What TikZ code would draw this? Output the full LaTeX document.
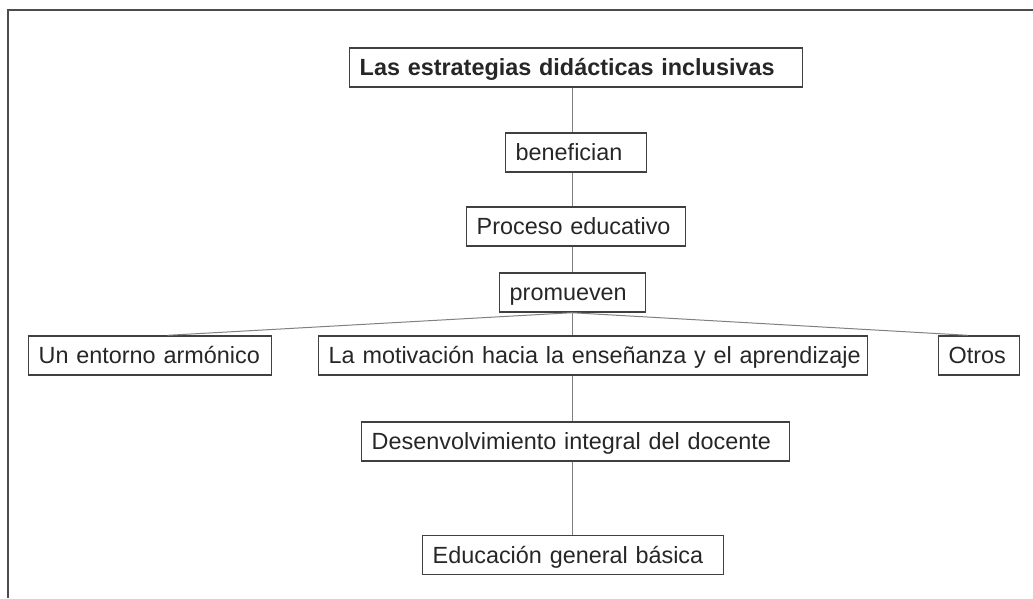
\documentclass[tikz,border=0pt]{standalone}
\usepackage{fontspec}
\setmainfont{Liberation Sans}
\begin{document}
\begin{tikzpicture}[x=1pt,y=-1pt]
        \tikzstyle{every node}+=[font=\fontsize{23.4}{28}\selectfont, text=black!85]
        \tikzstyle{caja}=[draw=black!75, line width=1.4pt, anchor=west, minimum height=39pt, inner xsep=10pt, inner ysep=0pt, text height=19pt, text depth=3pt, align=left]
        \tikzstyle{enlace}=[black!50, line width=1pt]
        \useasboundingbox (0,0) rectangle (1033,598);
        \draw [black!70, line width=2pt] (8,598) -- (8,10) -- (1033,10);
        \node [caja, text width=433pt, font=\fontsize{23.4}{28}\selectfont\bfseries] (estrategias) at (349,67.5) {Las estrategias didácticas inclusivas};
        \node [caja, text width=121pt] (benefician) at (505,152.5) {benefician};
        \node [caja, text width=199pt] (proceso) at (466,226.5) {Proceso educativo};
        \node [caja, text width=126pt] (promueven) at (499,292.5) {promueven};
        \node [caja, text width=223pt] (entorno) at (28,355.5) {\mbox{Un entorno armónico}};
        \node [caja, text width=529pt] (motivacion) at (318,355.5) {\mbox{La motivación hacia la enseñanza y el aprendizaje}};
        \node [caja, text width=61pt] (otros) at (938,355.5) {Otros};
        \node [caja, text width=408pt] (desenvolvimiento) at (361,441.5) {Desenvolvimiento integral del docente};
        \node [caja, text width=281pt] (educacion) at (422,555) {Educación general básica};
        \coordinate (eje) at (572,0);
        \draw [enlace] (estrategias.south -| eje) -- (benefician.north -| eje);
        \draw [enlace] (benefician.south -| eje) -- (proceso.north -| eje);
        \draw [enlace] (proceso.south -| eje) -- (promueven.north -| eje);
        \draw [enlace] (promueven.south -| eje) -- (motivacion.north -| eje);
        \draw [enlace] (promueven.south -| eje) -- ([xshift=17.5pt]entorno.north);
        \draw [enlace] (promueven.south -| eje) -- ([xshift=-11.5pt]otros.north);
        \draw [enlace] (motivacion.south -| eje) -- (desenvolvimiento.north -| eje);
        \draw [enlace] (desenvolvimiento.south -| eje) -- (educacion.north -| eje);
    \end{tikzpicture}
\end{document}
